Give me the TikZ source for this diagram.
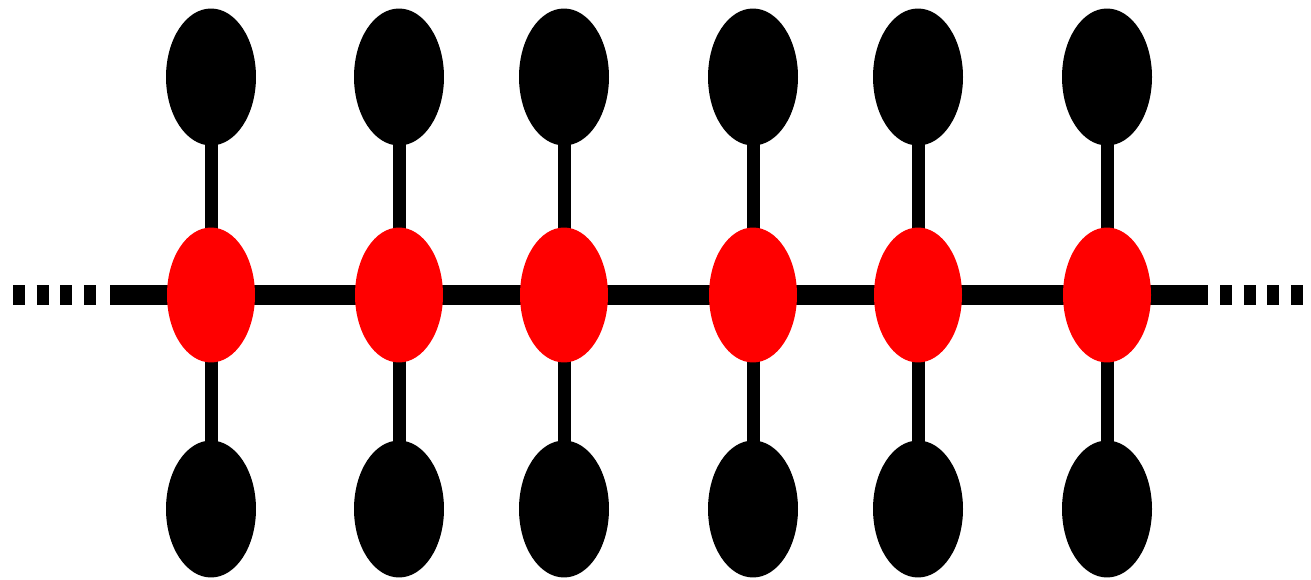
\documentclass[tikz,border=0pt]{standalone}
\usetikzlibrary{shapes.geometric,backgrounds}
\begin{document}
\begin{tikzpicture}[x=0.02cm,y=-0.02cm,
  blackball/.style={ellipse,fill=black,draw=none,inner sep=0pt,minimum width=1.80cm,minimum height=2.74cm},
  redball/.style={ellipse,fill=red,draw=none,inner sep=0pt,minimum width=1.76cm,minimum height=2.70cm},
  chain/.style={line width=0.4cm,draw=black},
  stem/.style={line width=0.26cm,draw=black},
  dotted end/.style={line width=0.4cm,draw=black,dash pattern=on 0.24cm off 0.232cm}]
\useasboundingbox (0,0) rectangle (1311,580);
\foreach \i/\x in {1/211,2/399,3/564,4/753,5/918,6/1107}{
  \node[blackball] (t\i) at (\x,77) {};
  \node[redball] (r\i) at (\x,295) {};
  \node[blackball] (b\i) at (\x,509) {};
}
\coordinate (L) at (110,295);
\coordinate (R) at (1208,295);
\coordinate (Ld0) at (13,295);
\coordinate (Ld1) at (97,295);
\coordinate (Rd0) at (1220,295);
\coordinate (Rd1) at (1305,295);
\begin{pgfonlayer}{background}
  \fill[white] (0,0) rectangle (1311,580);
  \draw[chain] (L) -- (R);
  \foreach \i in {1,...,6}{
    \draw[stem] (t\i.center) -- (b\i.center);
  }
  \draw[dotted end] (Ld0) -- (Ld1);
  \draw[dotted end] (Rd0) -- (Rd1);
\end{pgfonlayer}
\end{tikzpicture}
\end{document}
